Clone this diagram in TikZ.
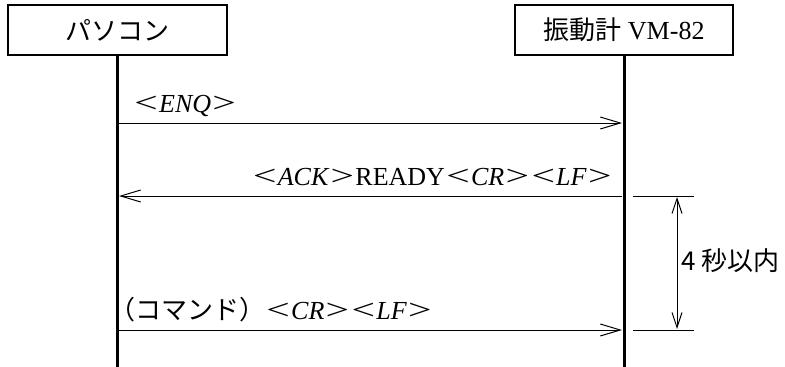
\documentclass[tikz,border=0pt]{standalone}
\usepackage{fontspec}
\usepackage{graphicx}
\setmainfont{Liberation Serif}
\newfontfamily\jp{Noto Sans CJK JP}
\usetikzlibrary{arrows.meta}
\newcommand\ltb{\makebox[26pt]{\scalebox{1.6}[1.1]{<}}}
\newcommand\gtb{\makebox[26pt]{\scalebox{1.6}[1.1]{>}}}
\begin{document}
\begin{tikzpicture}[x=1pt,y=-1pt,
  font=\fontsize{26}{31}\selectfont,
  box/.style={draw,line width=1.3pt,minimum height=50pt,inner sep=0pt},
  life/.style={line width=3pt},
  msg/.style={line width=1pt,-{Straight Barb[length=20pt,width=12pt,line width=1pt]}},
  ext/.style={line width=1pt},
  dim/.style={line width=1pt,{Straight Barb[length=15pt,width=10pt,line width=1pt]}-{Straight Barb[length=15pt,width=10pt,line width=1pt]}},
  lbl/.style={inner sep=0pt}]
\useasboundingbox (0,0) rectangle (785,367);
\node[box,minimum width=219pt] (pc) at (117.5,30) {\jp パソコン};
\node[box,minimum width=218pt] (vm) at (624,30) {{\jp 振動計} VM-82};
\coordinate (pcb) at (117.5,367);
\coordinate (vmb) at (624,367);
\draw[life] (pc.south) -- (pcb);
\draw[life] (vm.south) -- (vmb);
% messages
\coordinate (L1) at (119,123); \coordinate (R1) at (622,123);
\coordinate (L2) at (119,196); \coordinate (R2) at (622,196);
\coordinate (L3) at (119,330); \coordinate (R3) at (622,330);
\draw[msg] (L1) -- (R1);
\draw[msg] (R2) -- (L2);
\draw[msg] (L3) -- (R3);
\node[lbl,anchor=base west] (t1) at (133,112.5) {\ltb\textit{ENQ}\gtb};
\node[lbl,anchor=base east] (t2) at (613,185.5) {\ltb\textit{ACK}\gtb READY\ltb\textit{CR}\gtb\ltb\textit{LF}\gtb};
\node[lbl,anchor=base west] (t3) at (109,319.5) {{\jp （コマンド）}\ltb\textit{CR}\gtb\ltb\textit{LF}\gtb};
% interval
\coordinate (E1a) at (633,196); \coordinate (E1b) at (694,196);
\coordinate (E2a) at (633,330); \coordinate (E2b) at (694,330);
\draw[ext] (E1a) -- (E1b);
\draw[ext] (E2a) -- (E2b);
\coordinate (D1) at (677,197); \coordinate (D2) at (677,329);
\draw[dim] (D1) -- (D2);
\node[lbl,anchor=west] (t4) at (681,261) {\jp 4 秒以内};
\end{tikzpicture}
\end{document}
